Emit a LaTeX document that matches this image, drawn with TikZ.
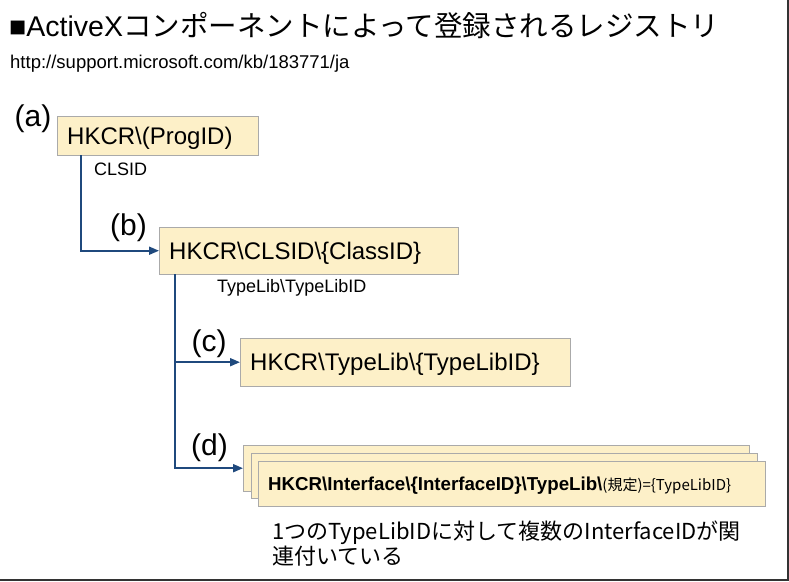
\documentclass[tikz,border=0pt]{standalone}
\usepackage{fontspec}
\setmainfont{Liberation Sans}
\newfontfamily\jp{Noto Sans CJK JP}
\usetikzlibrary{arrows.meta}
\definecolor{boxfill}{RGB}{253,240,200}
\definecolor{boxline}{RGB}{170,170,170}
\definecolor{linkblue}{RGB}{31,73,125}
\tikzstyle{regkey} = [rectangle, anchor=north west, draw=boxline, fill=boxfill, inner xsep=10pt, inner ysep=0pt, align=left, text height=22pt, text depth=4.8pt, font=\fontsize{24}{24}\selectfont]
\tikzstyle{tag} = [inner sep=0pt, font=\fontsize{30}{30}\selectfont]
\tikzstyle{valname} = [anchor=base west, inner sep=0pt, font=\fontsize{18}{18}\selectfont]
\tikzstyle{plain} = [anchor=base west, inner sep=0pt]
\tikzstyle{arrow} = [line width=1.8pt, draw=linkblue, -{Triangle[length=10pt,width=8pt]}]

\begin{document}
\begin{tikzpicture}[x=1pt, y=-1pt]
    \useasboundingbox (0,0) rectangle (789,581);
    \node [plain, font=\fontsize{28.5}{28.5}\selectfont] at (9,36) (title) {■ActiveX{\jp コンポーネントによって登録されるレジストリ}};
    \node [plain, font=\fontsize{18.5}{18.5}\selectfont] at (10,68) (url) {http://support.microsoft.com/kb/183771/ja};
    \node [tag] at (33,119) (taga) {(a)};
    \node [tag] at (128.5,228) (tagb) {(b)};
    \node [tag] at (209,344) (tagc) {(c)};
    \node [tag] at (209.5,448) (tagd) {(d)};
    \node [regkey, text width=181pt, minimum height=39pt] at (57,116) (progid) {HKCR\textbackslash(ProgID)};
    \node [regkey, text width=279pt, minimum height=47pt] at (159,227) (clsid) {HKCR\textbackslash CLSID\textbackslash\{ClassID\}};
    \node [regkey, text width=310pt, minimum height=48pt] at (240,338) (typelib) {HKCR\textbackslash TypeLib\textbackslash\{TypeLibID\}};
    \node [regkey, text width=486pt, minimum height=46pt] at (243,445) (iface3) {};
    \node [regkey, text width=486pt, minimum height=45pt] at (251,453) (iface2) {};
    \node [regkey, text width=487pt, minimum height=45pt, text height=17pt, text depth=3.8pt, font=\fontsize{18.7}{18.7}\selectfont\bfseries] at (258,461) (iface1) {HKCR\textbackslash Interface\textbackslash\{InterfaceID\}\textbackslash TypeLib\textbackslash{\mdseries\jp\fontsize{15}{15}\selectfont(規定)=\{TypeLibID\}}};
    \node [valname] at (94,175) (clsidval) {CLSID};
    \node [valname] at (217,292) (typelibval) {TypeLib\textbackslash TypeLibID};
    \node [anchor=north west, inner sep=0pt, align=left, font=\jp\fontsize{22}{23}\selectfont] at (272,521) (note) {1つのTypeLibIDに対して複数のInterfaceIDが関\\連付いている};
    \draw [arrow] ([xshift=24pt]progid.south west) |- (clsid.west);
    \draw [arrow] ([xshift=16pt]clsid.south west) |- (typelib.west);
    \draw [arrow] ([xshift=16pt]clsid.south west) |- (iface3.west);
    % frame on the right and bottom
    \draw [line width=2pt, draw=black!80] (0,580) -- (788,580) -- (788,0);
\end{tikzpicture}
\end{document}
